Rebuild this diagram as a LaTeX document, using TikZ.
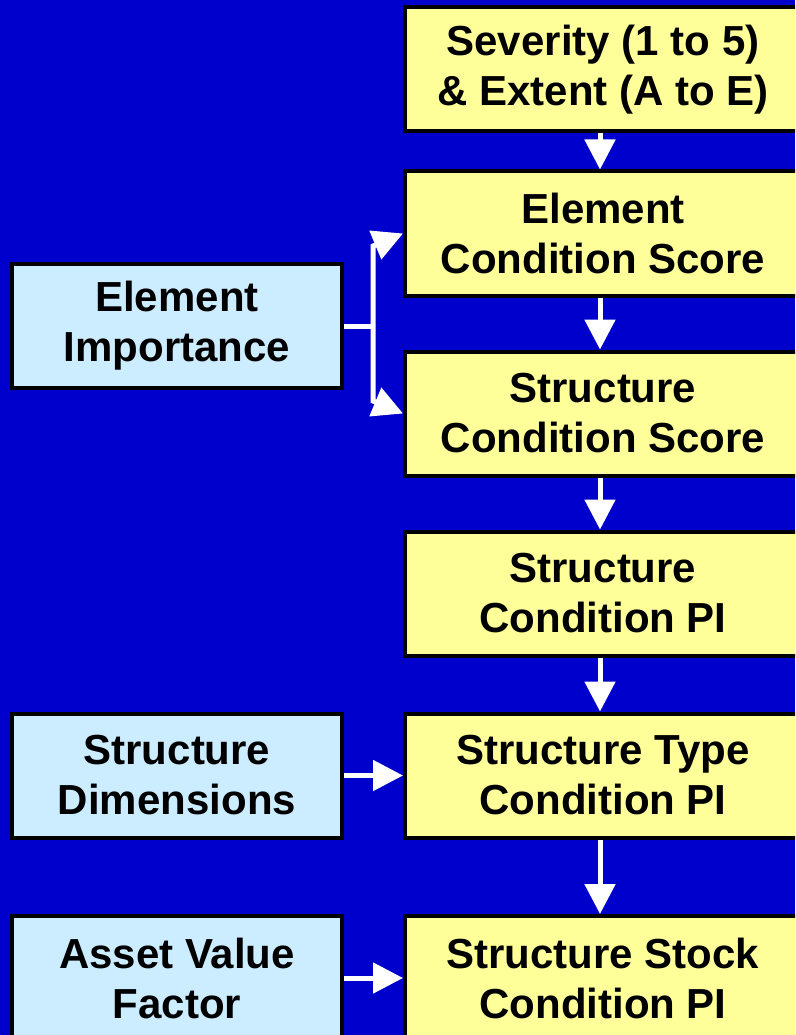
\documentclass[tikz,border=0pt]{standalone}
\usepackage{fontspec}
\setmainfont{Liberation Sans}
\usetikzlibrary{arrows.meta}
\definecolor{bg}{RGB}{0,0,204}
\definecolor{ylw}{RGB}{255,255,153}
\definecolor{lblue}{RGB}{204,236,255}
\begin{document}
\begin{tikzpicture}[x=1pt,y=-1pt,
  box/.style={draw=black,line width=4pt,minimum height=124pt,inner sep=0pt,align=center,
    font=\fontsize{42}{50}\selectfont\bfseries},
  ybox/.style={box,fill=ylw,minimum width=396pt},
  bbox/.style={box,fill=lblue,minimum width=330pt},
  conn/.style={draw=white,line width=5pt,-{Triangle[length=30pt,width=30pt]}},
  plain/.style={draw=white,line width=5pt}]
\useasboundingbox (0,0) rectangle (795,1035);
\clip (0,0) rectangle (795,1035);
\fill[bg] (0,0) rectangle (795,1035);

\node[ybox] (se) at (603,69.5) {Severity (1 to 5)\\\& Extent (A to E)};
\node[ybox] (ecs) at (603,233.5) {Element\\Condition Score};
\node[ybox] (scs) at (603,413.5) {Structure\\Condition Score};
\node[ybox] (scp) at (603,593.5) {Structure\\Condition PI};
\node[ybox] (stp) at (603,775.5) {Structure Type\\Condition PI};
\node[ybox] (ssp) at (603,978) {Structure Stock\\Condition PI};

\node[bbox] (ei) at (177,326) {Element\\Importance};
\node[bbox] (sd) at (177,775.5) {Structure\\Dimensions};
\node[bbox] (av) at (177,978) {Asset Value\\Factor};

\draw[conn] (se.south -| 600,0) -- (ecs.north -| 600,0);
\draw[conn] (ecs.south -| 600,0) -- (scs.north -| 600,0);
\draw[conn] (scs.south -| 600,0) -- (scp.north -| 600,0);
\draw[conn] (scp.south -| 600,0) -- (stp.north -| 600,0);
\draw[conn] (stp.south -| 600,0) -- (ssp.north -| 600,0);

\draw[conn] (sd.east) -- (sd.east -| stp.west);
\draw[conn] (av.east) -- (av.east -| ssp.west);

\coordinate (j) at (373,326);
\coordinate (jt) at (373,246);
\coordinate (jb) at (373,401);
\draw[plain] (ei.east) -- (j);
\draw[conn] (j) -- (jt) -- (ecs.west);
\draw[conn] (j) -- (jb) -- (scs.west);
\end{tikzpicture}
\end{document}
